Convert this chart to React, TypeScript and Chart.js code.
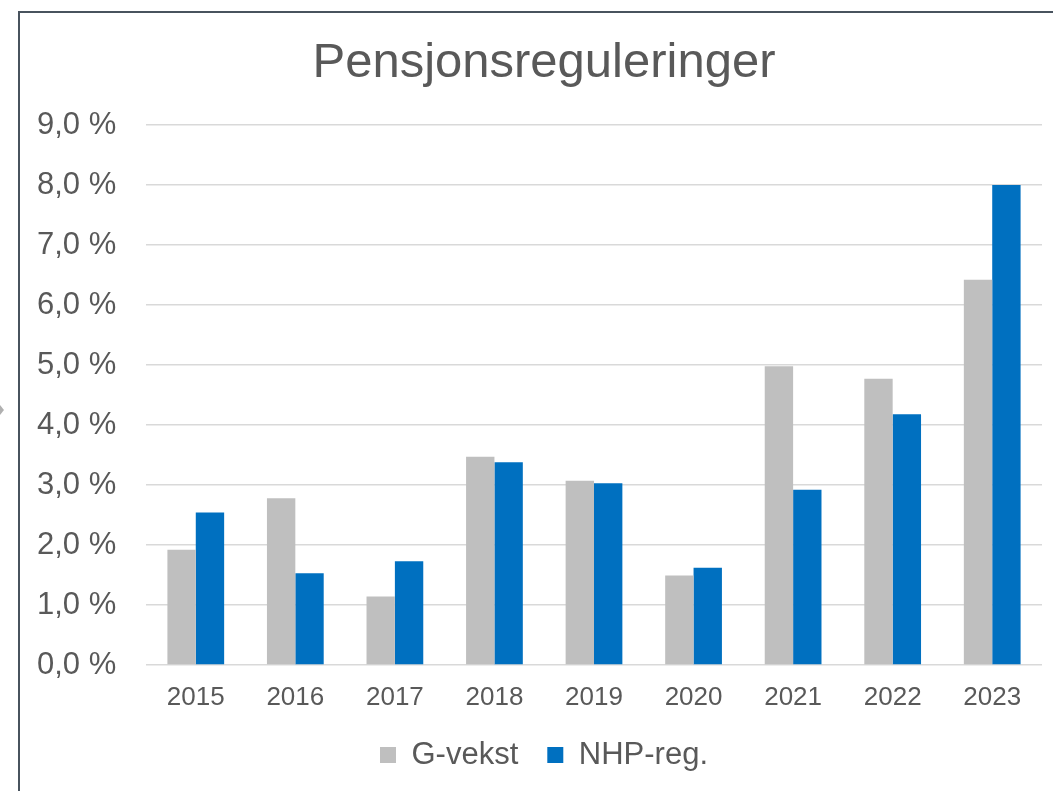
import React, { useEffect, useRef } from "react";
import { Chart, registerables } from "chart.js";

Chart.register(...registerables);

const categories = ["2015", "2016", "2017", "2018", "2019", "2020", "2021", "2022", "2023"];
const gVekst = [1.92, 2.78, 1.14, 3.47, 3.07, 1.49, 4.98, 4.77, 6.42];
const nhpReg = [2.54, 1.53, 1.73, 3.38, 3.03, 1.62, 2.92, 4.18, 8.0];
const seriesNames = ["G-vekst", "NHP-reg."];
const yMin = 0;
const yMax = 9;
const yStep = 1;

const FONT = "'Liberation Sans', Arial, sans-serif";
const TEXT = "#595959";

export default function App() {
  const ref = useRef<HTMLCanvasElement>(null);

  useEffect(() => {
    if (!ref.current) return;
    const chart = new Chart(ref.current, {
      type: "bar",
      data: {
        labels: categories,
        datasets: [
          {
            label: seriesNames[0],
            data: gVekst,
            backgroundColor: "#bfbfbf",
            categoryPercentage: 0.57,
            barPercentage: 1,
          },
          {
            label: seriesNames[1],
            data: nhpReg,
            backgroundColor: "#0070c0",
            categoryPercentage: 0.57,
            barPercentage: 1,
          },
        ],
      },
      options: {
        animation: false,
        responsive: false,
        layout: { padding: { left: 26, right: 26, bottom: 10.5 } },
        plugins: {
          title: {
            display: true,
            text: "Pensjonsreguleringer",
            color: TEXT,
            font: { family: FONT, size: 49, weight: "normal" },
            padding: { top: 21, bottom: 32.2 },
          },
          legend: {
            position: "bottom",
            labels: {
              boxWidth: 16,
              boxHeight: 16,
              color: TEXT,
              font: { family: FONT, size: 31 },
              padding: 29,
            },
          },
          tooltip: { enabled: false },
        },
        scales: {
          x: {
            grid: { display: false },
            border: { display: false },
            ticks: { color: TEXT, font: { family: FONT, size: 26 }, padding: 9.5 },
            afterFit: (s: any) => {
              s.height = 45.5;
            },
          },
          y: {
            min: yMin,
            max: yMax,
            ticks: {
              stepSize: yStep,
              color: TEXT,
              font: { family: FONT, size: 31 },
              mirror: true,
              crossAlign: "near",
              padding: -109,
              callback: (v: any) => Number(v).toFixed(1).replace(".", ",") + " %",
            },
            grid: { color: "#d9d9d9", lineWidth: 1.5, drawTicks: false },
            border: { display: false },
            afterFit: (s: any) => {
              s.width = 100;
            },
          },
        },
      },
    });
    return () => chart.destroy();
  }, []);

  return (
    <div
      style={{
        position: "fixed",
        left: 0,
        top: 0,
        width: 1053,
        height: 791,
        overflow: "hidden",
        background: "#ffffff",
      }}
    >
      <div
        style={{
          position: "absolute",
          left: 0,
          top: 405,
          width: 0,
          height: 0,
          borderTop: "5px solid transparent",
          borderBottom: "5px solid transparent",
          borderLeft: "4px solid #b0b0b0",
        }}
      />
      <div
        style={{
          position: "absolute",
          left: 18,
          top: 11,
          width: 1100,
          height: 900,
          borderLeft: "2px solid #48535e",
          borderTop: "2px solid #48535e",
          background: "#ffffff",
        }}
      >
        <canvas ref={ref} width={1048} height={778} style={{ display: "block" }} />
      </div>
    </div>
  );
}
